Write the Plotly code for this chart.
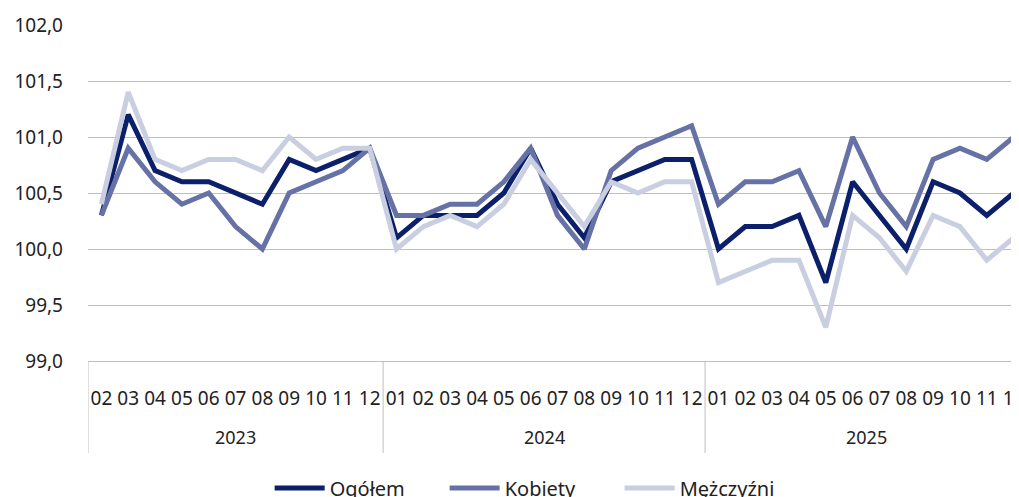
import plotly.graph_objects as go

years = ["2023"] * 11 + ["2024"] * 12 + ["2025"] * 12
months = ["02", "03", "04", "05", "06", "07", "08", "09", "10", "11", "12",
          "01", "02", "03", "04", "05", "06", "07", "08", "09", "10", "11", "12",
          "01", "02", "03", "04", "05", "06", "07", "08", "09", "10", "11", "12"]

ogolem = [100.3, 101.2, 100.7, 100.6, 100.6, 100.5, 100.4, 100.8, 100.7, 100.8, 100.9,
          100.1, 100.3, 100.3, 100.3, 100.5, 100.9, 100.4, 100.1, 100.6, 100.7, 100.8, 100.8,
          100.0, 100.2, 100.2, 100.3, 99.7, 100.6, 100.3, 100.0, 100.6, 100.5, 100.3, 100.5]
kobiety = [100.3, 100.9, 100.6, 100.4, 100.5, 100.2, 100.0, 100.5, 100.6, 100.7, 100.9,
           100.3, 100.3, 100.4, 100.4, 100.6, 100.9, 100.3, 100.0, 100.7, 100.9, 101.0, 101.1,
           100.4, 100.6, 100.6, 100.7, 100.2, 101.0, 100.5, 100.2, 100.8, 100.9, 100.8, 101.0]
mezczyzni = [100.4, 101.4, 100.8, 100.7, 100.8, 100.8, 100.7, 101.0, 100.8, 100.9, 100.9,
             100.0, 100.2, 100.3, 100.2, 100.4, 100.8, 100.5, 100.2, 100.6, 100.5, 100.6, 100.6,
             99.7, 99.8, 99.9, 99.9, 99.3, 100.3, 100.1, 99.8, 100.3, 100.2, 99.9, 100.1]

series = [("Ogółem", ogolem, "#0b1f6b"),
          ("Kobiety", kobiety, "#6672a6"),
          ("Mężczyźni", mezczyzni, "#c9cee1")]

x = list(range(len(months)))

fig = go.Figure()
for name, vals, col in series:
    fig.add_trace(go.Scatter(
        x=x, y=vals, name=name, mode="lines",
        line=dict(color=col, width=5),
    ))

# year groups: separators and centred labels
grid_col = "#bfbfbf"
plot_h = 497 - 17 - 144
groups = []
for i, yr in enumerate(years):
    if not groups or groups[-1][0] != yr:
        groups.append([yr, i, i])
    else:
        groups[-1][2] = i
for yr, start, end in groups:
    fig.add_shape(type="line", xref="x", yref="paper",
                  x0=start - 0.5, x1=start - 0.5, y0=0, y1=-92 / plot_h,
                  line=dict(color=grid_col, width=1))
    fig.add_annotation(x=(start + end) / 2, xref="x", yref="paper",
                       y=-76 / plot_h, yanchor="middle", text=yr, showarrow=False,
                       font=dict(size=18, color="#222222"))

# page body adds an 8px offset, so margins are trimmed by 8 and the plot runs past the right edge
fig.update_layout(
    width=1019, height=497,
    margin=dict(l=80, r=0, t=17, b=144),
    paper_bgcolor="white", plot_bgcolor="white",
    font=dict(family="Noto Sans", size=16, color="#222222"),
    separators=", ",
    showlegend=True,
    legend=dict(orientation="h", x=0.473, xanchor="center",
                yref="container", y=0.034, yanchor="middle",
                font=dict(size=20), itemwidth=50,
                entrywidth=110, entrywidthmode="pixels"),
    xaxis=dict(
        range=[-0.5, 34.5], tickvals=x, ticktext=months, automargin=False,
        showgrid=False, showline=True, linecolor=grid_col, linewidth=1,
        zeroline=False, ticks="", tickangle=0,
        ticklabelstandoff=20, tickfont=dict(size=19),
    ),
    yaxis=dict(
        range=[99.0, 102.0], dtick=0.5, tickformat=".1f", automargin=False,
        showgrid=True, gridcolor=grid_col, gridwidth=1,
        zeroline=False, showline=False, ticks="",
        ticklabelstandoff=24, tickfont=dict(size=19),
    ),
)

fig.write_html("out.html")
